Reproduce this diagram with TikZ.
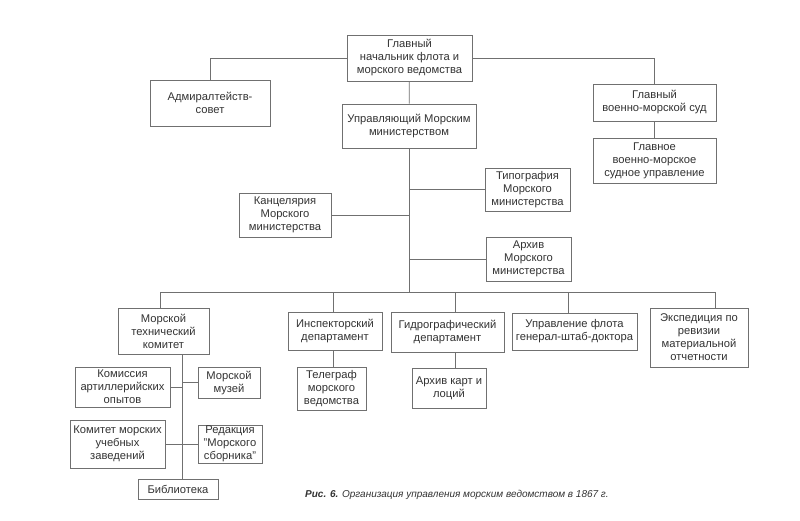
\documentclass[tikz,border=0pt]{standalone}
\usepackage{fontspec}
\setmainfont{Liberation Sans}
\definecolor{ink}{HTML}{333333}
\definecolor{edge}{HTML}{707070}
\begin{document}
\begin{tikzpicture}[x=1pt,y=-1pt,
  box/.style={draw=edge, line width=0.8pt, fill=white, align=center, inner sep=0.5pt,
    text=ink, font=\fontsize{11.2}{13}\selectfont},
  conn/.style={draw=edge, line width=0.8pt}]
\useasboundingbox (0,0) rectangle (800,520);
\fill[white] (0,0) rectangle (800,520);
% row 1
\node[box, minimum width=125pt, minimum height=46pt] (top) at (409.5,58) {Главный\\начальник флота и\\морского ведомства};
\node[box, minimum width=120pt, minimum height=46pt] (adm) at (210,103) {Адмиралтейств-\\совет};
\node[box, minimum width=134pt, minimum height=44pt] (upr) at (409,126) {Управляющий Морским\\министерством};
\node[box, minimum width=123pt, minimum height=37pt] (sud) at (654.5,102.5) {Главный\\военно-морской суд};
\node[box, minimum width=123pt, minimum height=45pt] (sudupr) at (654.5,160.5) {Главное\\военно-морское\\судное управление};
% middle
\node[box, minimum width=85pt, minimum height=43pt] (tip) at (527.5,189.5) {Типография\\Морского\\министерства};
\node[box, minimum width=92pt, minimum height=44pt] (kanc) at (285,215) {Канцелярия\\Морского\\министерства};
\node[box, minimum width=85pt, minimum height=44pt] (arch) at (528.5,259) {Архив\\Морского\\министерства};
% row of departments
\node[box, minimum width=91pt, minimum height=46pt] (mtk) at (163.5,331) {Морской\\технический\\комитет};
\node[box, minimum width=94pt, minimum height=38pt] (insp) at (335,331) {Инспекторский\\департамент};
\node[box, minimum width=113pt, minimum height=40pt] (gidro) at (447.5,332) {Гидрографический\\департамент};
\node[box, minimum width=125pt, minimum height=37pt] (uprfl) at (574.5,331.5) {Управление флота\\генерал-штаб-доктора};
\node[box, minimum width=98pt, minimum height=59pt] (exp) at (699,337.5) {Экспедиция по\\ревизии\\материальной\\отчетности};
% lower
\node[box, minimum width=69pt, minimum height=43pt] (tel) at (331.5,388.5) {Телеграф\\морского\\ведомства};
\node[box, minimum width=74pt, minimum height=40pt] (archk) at (449,388) {Архив карт и\\лоций};
\node[box, minimum width=95pt, minimum height=40pt] (kom) at (122.5,387) {Комиссия\\артиллерийских\\опытов};
\node[box, minimum width=62pt, minimum height=31pt] (muz) at (229,382.5) {Морской\\музей};
\node[box, minimum width=95pt, minimum height=48pt] (komuch) at (117.5,444) {Комитет морских\\учебных\\заведений};
\node[box, minimum width=64pt, minimum height=38pt] (red) at (230,444) {Редакция\\"Морского\\сборника"};
\node[box, minimum width=80pt, minimum height=20pt] (bib) at (178,489) {Библиотека};
% caption
\node[text=ink, anchor=west, inner sep=0pt, font=\fontsize{10}{11}\selectfont\itshape] (cap) at (305,495) {\textbf{Рис. 6.} Организация управления морским ведомством в 1867 г.};
% coordinates
\coordinate (bc) at (409,292);
\coordinate (b1) at (160,292);
\coordinate (b2) at (333,292);
\coordinate (b3) at (455,292);
\coordinate (b4) at (568,292);
\coordinate (b5) at (715,292);
\coordinate (m1) at (182,0);
% connectors
\path[conn] (top.west) -| (adm.north);
\path[conn] (top.east) -| (sud.north);
\path[conn] (sud) -- (sudupr);
\path[conn] (top) -- (upr);
\path[conn] (upr.south) -- (bc);
\path[conn] (tip.west) -- (tip.west -| bc);
\path[conn] (kanc.east) -- (kanc.east -| bc);
\path[conn] (arch.west) -- (arch.west -| bc);
\path[conn] (b1) -- (b5);
\path[conn] (b1) -- (b1 |- mtk.north);
\path[conn] (b2) -- (b2 |- insp.north);
\path[conn] (b3) -- (b3 |- gidro.north);
\path[conn] (b4) -- (b4 |- uprfl.north);
\path[conn] (b5) -- (b5 |- exp.north);
\path[conn] (b2 |- insp.south) -- (b2 |- tel.north);
\path[conn] (b3 |- gidro.south) -- (b3 |- archk.north);
\path[conn] (m1 |- mtk.south) -- (m1 |- bib.north);
\path[conn] (kom.east) -- (kom.east -| m1);
\path[conn] (muz.west) -- (muz.west -| m1);
\path[conn] (komuch.east) -- (komuch.east -| m1);
\path[conn] (red.west) -- (red.west -| m1);
\end{tikzpicture}
\end{document}
